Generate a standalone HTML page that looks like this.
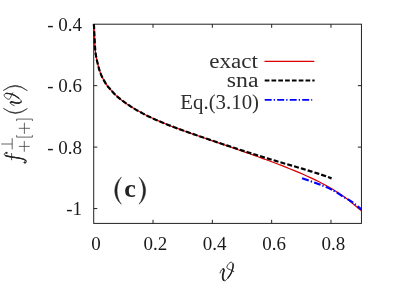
<!DOCTYPE html>
<html><head><meta charset="utf-8"><style>
html,body{margin:0;padding:0;background:#fff;}
svg{display:block;will-change:transform;font-family:"Liberation Serif",serif;}
</style></head><body>
<svg width="407" height="286" viewBox="0 0 407 286">
<rect width="407" height="286" fill="#fff"/>
<g fill="none" stroke="#222" stroke-width="1">
<rect x="93.7" y="24.2" width="267.75" height="199.20"/>
<path d="M153.02,223.4 v-3.6 M153.02,24.2 v3.6"/><path d="M212.34,223.4 v-3.6 M212.34,24.2 v3.6"/><path d="M271.66,223.4 v-3.6 M271.66,24.2 v3.6"/><path d="M330.98,223.4 v-3.6 M330.98,24.2 v3.6"/><path d="M93.7,85.65 h3.6 M361.45,85.65 h-3.6"/><path d="M93.7,147.10 h3.6 M361.45,147.10 h-3.6"/><path d="M93.7,208.55 h3.6 M361.45,208.55 h-3.6"/>
</g>
<g font-size="19" fill="#1a1a1a"><text x="96.10" y="249.8" text-anchor="middle">0</text><text x="155.42" y="249.8" text-anchor="middle">0.2</text><text x="214.74" y="249.8" text-anchor="middle">0.4</text><text x="274.06" y="249.8" text-anchor="middle">0.6</text><text x="333.38" y="249.8" text-anchor="middle">0.8</text><text x="82" y="30.80" text-anchor="end">- 0.4</text><text x="82" y="92.25" text-anchor="end">- 0.6</text><text x="82" y="153.70" text-anchor="end">- 0.8</text><text x="82" y="215.15" text-anchor="end">-1</text></g>
<path d="M93.80,24.20 C93.84,24.67 93.97,25.62 94.05,27.00 C94.13,28.38 94.21,30.53 94.30,32.50 C94.39,34.47 94.50,36.70 94.60,38.80 C94.70,40.90 94.77,42.97 94.90,45.10 C95.03,47.23 95.13,49.37 95.40,51.60 C95.67,53.83 96.07,56.30 96.50,58.50 C96.93,60.70 97.50,62.82 98.00,64.80 C98.50,66.78 98.79,68.33 99.50,70.40 C100.21,72.47 101.08,74.82 102.25,77.20 C103.42,79.58 105.09,82.62 106.50,84.70 C107.91,86.78 109.30,88.08 110.70,89.70 C112.10,91.32 113.38,92.90 114.90,94.40 C116.42,95.90 118.17,97.37 119.80,98.70 C121.43,100.03 123.07,101.23 124.70,102.40 C126.33,103.57 127.88,104.59 129.60,105.70 C131.32,106.81 132.77,107.76 135.00,109.07 C137.23,110.38 140.33,112.14 143.00,113.55 C145.67,114.96 148.33,116.27 151.00,117.54 C153.67,118.81 156.33,120.00 159.00,121.15 C161.67,122.31 164.33,123.40 167.00,124.47 C169.67,125.54 172.33,126.57 175.00,127.58 C177.67,128.59 180.33,129.56 183.00,130.53 C185.67,131.50 188.33,132.45 191.00,133.39 C193.67,134.33 196.33,135.26 199.00,136.19 C201.67,137.12 204.33,138.03 207.00,138.95 C209.67,139.87 212.33,140.77 215.00,141.69 C217.67,142.61 220.33,143.53 223.00,144.45 C225.67,145.37 228.33,146.28 231.00,147.21 C233.67,148.14 236.33,149.07 239.00,150.00 C241.67,150.93 244.33,151.87 247.00,152.81 C249.67,153.75 252.33,154.70 255.00,155.66 C257.67,156.62 260.33,157.59 263.00,158.56 C265.67,159.53 268.33,160.51 271.00,161.50 C273.67,162.49 276.33,163.50 279.00,164.52 C281.67,165.54 284.33,166.57 287.00,167.63 C289.67,168.69 292.33,169.77 295.00,170.87 C297.67,171.97 300.33,173.09 303.00,174.26 C305.67,175.43 308.33,176.62 311.00,177.87 C313.67,179.12 316.33,180.40 319.00,181.76 C321.67,183.12 324.33,184.52 327.00,186.01 C329.67,187.50 332.33,189.04 335.00,190.70 C337.67,192.36 340.33,194.09 343.00,195.96 C345.67,197.83 347.95,199.43 351.00,201.91 C354.05,204.39 359.58,209.33 361.30,210.82" fill="none" stroke="#dc0000" stroke-width="1.25"/>
<path d="M93.80,24.20 C93.84,24.67 93.97,25.62 94.05,27.00 C94.13,28.38 94.21,30.53 94.30,32.50 C94.39,34.47 94.50,36.70 94.60,38.80 C94.70,40.90 94.77,42.97 94.90,45.10 C95.03,47.23 95.13,49.37 95.40,51.60 C95.67,53.83 96.07,56.30 96.50,58.50 C96.93,60.70 97.50,62.82 98.00,64.80 C98.50,66.78 98.79,68.33 99.50,70.40 C100.21,72.47 101.08,74.82 102.25,77.20 C103.42,79.58 105.09,82.62 106.50,84.70 C107.91,86.78 109.30,88.08 110.70,89.70 C112.10,91.32 113.38,92.90 114.90,94.40 C116.42,95.90 118.17,97.37 119.80,98.70 C121.43,100.03 123.07,101.23 124.70,102.40 C126.33,103.57 127.88,104.58 129.60,105.70 C131.32,106.82 132.77,107.81 135.00,109.13 C137.23,110.45 140.33,112.20 143.00,113.61 C145.67,115.02 148.33,116.31 151.00,117.57 C153.67,118.83 156.33,120.00 159.00,121.15 C161.67,122.30 164.33,123.39 167.00,124.45 C169.67,125.51 172.33,126.53 175.00,127.53 C177.67,128.53 180.33,129.50 183.00,130.46 C185.67,131.42 188.33,132.36 191.00,133.30 C193.67,134.24 196.33,135.16 199.00,136.08 C201.67,137.00 204.33,137.91 207.00,138.81 C209.67,139.72 212.33,140.61 215.00,141.51 C217.67,142.41 220.33,143.30 223.00,144.19 C225.67,145.08 228.33,145.95 231.00,146.83 C233.67,147.71 236.33,148.58 239.00,149.45 C241.67,150.32 244.33,151.18 247.00,152.03 C249.67,152.88 252.33,153.73 255.00,154.57 C257.67,155.41 260.33,156.23 263.00,157.05 C265.67,157.87 268.33,158.68 271.00,159.48 C273.67,160.28 276.33,161.08 279.00,161.87 C281.67,162.66 284.33,163.44 287.00,164.22 C289.67,165.00 292.33,165.78 295.00,166.56 C297.67,167.34 300.33,168.12 303.00,168.92 C305.67,169.72 308.33,170.52 311.00,171.35 C313.67,172.18 316.33,173.01 319.00,173.90 C321.67,174.79 324.90,175.92 327.00,176.67 C329.10,177.42 330.83,178.10 331.60,178.39" fill="none" stroke="#000" stroke-width="2.2" stroke-dasharray="5 2.1"/>
<path d="M302.10,178.30 C304.57,179.15 312.40,181.72 316.90,183.40 C321.40,185.08 325.75,186.87 329.10,188.40 C332.45,189.93 334.57,191.17 337.00,192.60 C339.43,194.03 341.53,195.67 343.70,197.00 C345.87,198.33 348.12,199.40 350.00,200.60 C351.88,201.80 353.12,202.73 355.00,204.20 C356.88,205.67 360.25,208.53 361.30,209.40" fill="none" stroke="#0000ff" stroke-width="2.1" stroke-dasharray="7 2 1.3 2.2"/>
<path d="M264.5,61.35 H314.3" stroke="#dc0000" stroke-width="1.25"/>
<path d="M264.7,80.4 H314.6" stroke="#000" stroke-width="2.0" stroke-dasharray="4.7 2.1"/>
<path d="M264.7,99.85 H312.2" stroke="#0000ff" stroke-width="1.6" stroke-dasharray="7 2 1.3 2.2"/>
<g font-size="20.5" fill="#2e2e2e" text-anchor="end">
<text x="258" y="68" textLength="48.7" lengthAdjust="spacingAndGlyphs">exact</text>
<text x="258.5" y="86.7" textLength="31.7" lengthAdjust="spacingAndGlyphs">sna</text>
<text x="259" y="108.8" textLength="78.7" lengthAdjust="spacingAndGlyphs">Eq.(3.10)</text>
</g>
<text x="124.3" y="197.1" font-size="26" font-weight="bold" fill="#222">c</text>
<path d="M121.4,177.2 C112.6,184 112.6,197.4 121.4,204.2 C115.6,197.4 115.6,184 121.4,177.2 Z" fill="#222" stroke="#222" stroke-width="0.5" stroke-linejoin="round"/>
<path d="M139.0,177.2 C147.8,184 147.8,197.4 139.0,204.2 C144.8,197.4 144.8,184 139.0,177.2 Z" fill="#222" stroke="#222" stroke-width="0.5" stroke-linejoin="round"/>
<g transform="translate(219.8,281.3)"><g fill="none" stroke="#222" stroke-linecap="round"><path d="M0.27,-8.33 C0.52,-8.84 1.21,-10.74 1.75,-11.40 C2.29,-12.06 3.09,-12.38 3.50,-12.30 C3.91,-12.22 4.25,-11.71 4.20,-10.90 C4.15,-10.09 3.42,-8.68 3.20,-7.45 C2.98,-6.22 2.78,-4.56 2.90,-3.50 C3.02,-2.44 3.52,-1.60 3.90,-1.10 C4.28,-0.60 4.47,-0.10 5.20,-0.50 C5.93,-0.90 7.27,-2.20 8.30,-3.50 C9.33,-4.80 10.60,-6.62 11.40,-8.30 C12.20,-9.98 12.78,-12.13 13.10,-13.60 C13.42,-15.07 13.48,-16.20 13.30,-17.10 C13.12,-18.00 12.55,-18.75 12.00,-19.00 C11.45,-19.25 10.65,-19.00 10.00,-18.60 C9.35,-18.20 8.58,-17.30 8.10,-16.60 C7.62,-15.90 7.13,-15.05 7.10,-14.40 C7.07,-13.75 7.27,-13.20 7.90,-12.70 C8.53,-12.20 9.88,-11.88 10.90,-11.40 C11.92,-10.92 13.48,-10.07 14.00,-9.80" stroke-width="0.9"/><path d="M3.50,-12.30 C3.62,-12.07 4.25,-11.71 4.20,-10.90 C4.15,-10.09 3.42,-8.68 3.20,-7.45 C2.98,-6.22 2.78,-4.56 2.90,-3.50 C3.02,-2.44 3.73,-1.50 3.90,-1.10" stroke-width="1.7"/><path d="M8.30,-3.50 C8.82,-4.30 10.60,-6.62 11.40,-8.30 C12.20,-9.98 12.78,-12.13 13.10,-13.60 C13.42,-15.07 13.27,-16.52 13.30,-17.10" stroke-width="1.4"/></g></g>
<g transform="translate(21.8,164) rotate(-90)">
<g fill="none" stroke="#4a4a4a" stroke-width="0.85">
<path d="M14.6,-9.6 H25.8 M20.0,-9.6 V-20.6"/>
<path d="M12.2,2.5 H23 M17.6,-2.9 V7.9"/>
<path d="M28.8,-5.2 H26.9 V10.6 H28.8"/>
<path d="M30.1,2.6 H41.3 M35.7,-3 V8.2"/>
<path d="M43,-5.2 H44.9 V10.6 H43"/>
</g>
<g fill="#222" stroke="#222" stroke-width="0.55" stroke-linejoin="round">
<path d="M55.7,-18.5 Q45.6,-6.4 55.4,5.6 Q47.1,-6.4 55.7,-18.5 Z"/>
<path d="M73.5,-18.5 Q83.5,-6.4 73.3,5.6 Q82.0,-6.4 73.5,-18.5 Z"/>
</g>
<g transform="translate(58.2,0.1) scale(0.93)"><g fill="none" stroke="#222" stroke-linecap="round"><path d="M0.27,-8.33 C0.52,-8.84 1.21,-10.74 1.75,-11.40 C2.29,-12.06 3.09,-12.38 3.50,-12.30 C3.91,-12.22 4.25,-11.71 4.20,-10.90 C4.15,-10.09 3.42,-8.68 3.20,-7.45 C2.98,-6.22 2.78,-4.56 2.90,-3.50 C3.02,-2.44 3.52,-1.60 3.90,-1.10 C4.28,-0.60 4.47,-0.10 5.20,-0.50 C5.93,-0.90 7.27,-2.20 8.30,-3.50 C9.33,-4.80 10.60,-6.62 11.40,-8.30 C12.20,-9.98 12.78,-12.13 13.10,-13.60 C13.42,-15.07 13.48,-16.20 13.30,-17.10 C13.12,-18.00 12.55,-18.75 12.00,-19.00 C11.45,-19.25 10.65,-19.00 10.00,-18.60 C9.35,-18.20 8.58,-17.30 8.10,-16.60 C7.62,-15.90 7.13,-15.05 7.10,-14.40 C7.07,-13.75 7.27,-13.20 7.90,-12.70 C8.53,-12.20 9.88,-11.88 10.90,-11.40 C11.92,-10.92 13.48,-10.07 14.00,-9.80" stroke-width="0.9"/><path d="M3.50,-12.30 C3.62,-12.07 4.25,-11.71 4.20,-10.90 C4.15,-10.09 3.42,-8.68 3.20,-7.45 C2.98,-6.22 2.78,-4.56 2.90,-3.50 C3.02,-2.44 3.73,-1.50 3.90,-1.10" stroke-width="1.7"/><path d="M8.30,-3.50 C8.82,-4.30 10.60,-6.62 11.40,-8.30 C12.20,-9.98 12.78,-12.13 13.10,-13.60 C13.42,-15.07 13.27,-16.52 13.30,-17.10" stroke-width="1.4"/></g></g>
</g>
<g fill="none" stroke="#222" stroke-linecap="round"><path d="M6.29,152.68 C6.03,152.81 5.05,153.17 4.72,153.47 C4.39,153.77 4.19,154.15 4.32,154.50 C4.45,154.85 4.91,155.32 5.50,155.60 C6.09,155.88 6.81,155.97 7.86,156.20 C8.91,156.43 10.49,156.77 11.80,157.00 C13.11,157.23 14.27,157.37 15.70,157.60 C17.13,157.83 19.02,158.10 20.40,158.40 C21.78,158.70 23.08,159.00 24.00,159.40 C24.92,159.80 25.52,160.35 25.90,160.80 C26.28,161.25 26.40,161.72 26.30,162.10 C26.20,162.48 25.62,163.03 25.30,163.10 C24.98,163.17 24.55,162.60 24.40,162.50" stroke-width="1.0"/><path d="M5.50,155.60 C5.89,155.70 6.81,155.97 7.86,156.20 C8.91,156.43 10.49,156.77 11.80,157.00 C13.11,157.23 14.27,157.37 15.70,157.60 C17.13,157.83 19.02,158.10 20.40,158.40 C21.78,158.70 23.08,159.00 24.00,159.40 C24.92,159.80 25.58,160.57 25.90,160.80" stroke-width="1.45"/><path d="M11.6,153.5 V159.8" stroke-width="0.8"/><circle cx="6.4" cy="152.9" r="0.6" stroke-width="1"/><circle cx="24.5" cy="162.4" r="0.6" stroke-width="1"/></g>
</svg>
</body></html>
